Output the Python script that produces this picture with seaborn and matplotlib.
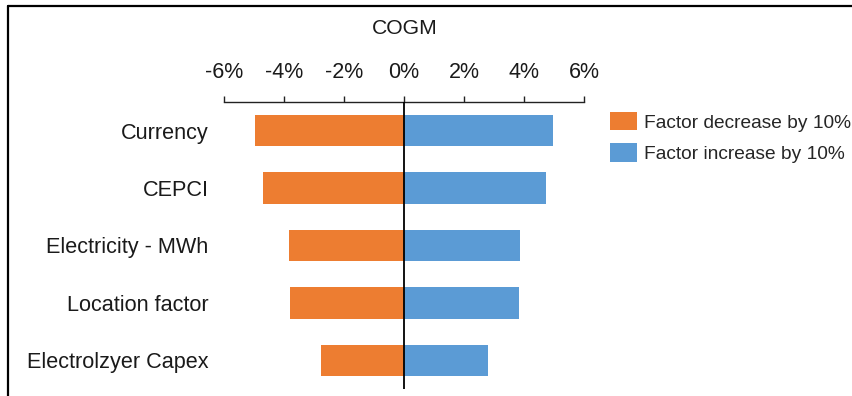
import matplotlib
matplotlib.use("Agg")
import matplotlib.pyplot as plt
from matplotlib.lines import Line2D
from matplotlib.patches import Patch
import seaborn as sns
import pandas as pd

factors = ["Currency", "CEPCI", "Electricity - MWh", "Location factor", "Electrolzyer Capex"]
decrease = [-4.97, -4.70, -3.83, -3.80, -2.77]   # % change in COGM
increase = [4.98, 4.72, 3.87, 3.84, 2.79]
series_names = ["Factor decrease by 10%", "Factor increase by 10%"]
tick_values = [-6, -4, -2, 0, 2, 4, 6]
tick_labels = ["-6%", "-4%", "-2%", "0%", "2%", "4%", "6%"]
colors = ["#ED7D31", "#5B9BD5"]

df = pd.concat([
    pd.DataFrame({"factor": factors, "value": decrease, "scenario": series_names[0]}),
    pd.DataFrame({"factor": factors, "value": increase, "scenario": series_names[1]}),
])

sns.set_theme(style="white")
plt.rcParams["font.family"] = ["Liberation Sans", "DejaVu Sans"]

W, H = 853, 396
fig = plt.figure(figsize=(W / 100, H / 100), dpi=100)
ax = fig.add_axes([224 / W, 1 - 389 / H, (584 - 224) / W, (389 - 102) / H])

sns.barplot(data=df, y="factor", x="value", hue="scenario", dodge=False,
            palette=colors, width=0.55, orient="h", ax=ax, legend=False,
            linewidth=0, saturation=1)

ax.set_xlim(-6, 6)
ax.set_xticks(tick_values)
ax.set_xticklabels(tick_labels, fontsize=15.5, color="#1a1a1a")
ax.xaxis.tick_top()
ax.tick_params(axis="x", direction="out", length=4, width=1, color="#222222", pad=9.5)
ax.tick_params(axis="y", length=0, pad=11, labelsize=15.6, labelcolor="#1a1a1a")
ax.set_xlabel("")
ax.set_ylabel("")
for side in ["left", "right", "bottom"]:
    ax.spines[side].set_visible(False)
ax.spines["top"].set_color("#222222")
ax.spines["top"].set_linewidth(1)
ax.axvline(0, color="black", linewidth=1.3, zorder=5)

fig.text(405 / W, 1 - 28 / H, "COGM", ha="center", va="center", fontsize=15.2, color="#1a1a1a")

handles = [Patch(facecolor=c, edgecolor="none") for c in colors]
fig.legend(handles, series_names, loc="upper left",
           bbox_to_anchor=(610 / W, 1 - 112 / H), frameon=False,
           fontsize=13.8, handlelength=1.4, handleheight=1.08,
           handletextpad=0.36, labelspacing=0.62, borderpad=0, borderaxespad=0)

# outer frame (cropped on the right and bottom)
fig.add_artist(Line2D([8 / W, 8 / W], [0, 1 - 6 / H], color="black", linewidth=1.6,
                      transform=fig.transFigure))
fig.add_artist(Line2D([8 / W, 1], [1 - 6 / H, 1 - 6 / H], color="black", linewidth=1.6,
                      transform=fig.transFigure))

fig.savefig("out.png", dpi=100)
